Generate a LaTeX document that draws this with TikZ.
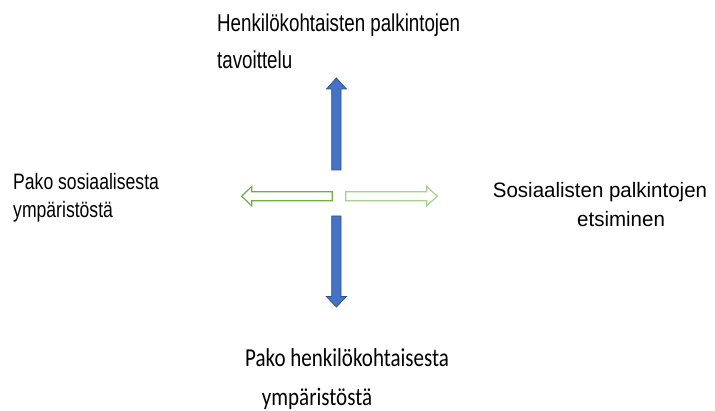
\documentclass[tikz,border=0pt]{standalone}
\usepackage{fontspec}
\usepackage{graphicx}
\setmainfont{Liberation Sans}
\newfontfamily\carl{Carlito}
\definecolor{blueF}{HTML}{4472C4}
\definecolor{blueD}{HTML}{2F528F}
\definecolor{greenD}{HTML}{70AD47}
\definecolor{greenL}{HTML}{A9D18E}
\newcommand{\stxt}[3]{\scalebox{1}[#2]{\fontsize{#1}{#1}\selectfont #3}}
\begin{document}
\begin{tikzpicture}[x=1pt,y=-1pt,
  lbl/.style={inner sep=0pt,anchor=base west},
  bluearrow/.style={fill=blueF,draw=blueD,line width=0.8pt,line join=miter},
  greenarrow/.style={fill=white,line width=1.2pt,line join=miter}]
\useasboundingbox (0,0) rectangle (715,411);
% texts
\node[lbl] (t1) at (217,31.7) {\stxt{18.75}{1.3}{Henkilökohtaisten palkintojen}};
\node[lbl] (t2) at (217,69) {\stxt{18.75}{1.3}{tavoittelu}};
\node[lbl] (l1) at (13,190) {\stxt{17.6}{1.27}{Pako sosiaalisesta}};
\node[lbl] (l2) at (13,217.3) {\stxt{17.6}{1.27}{ympäristöstä}};
\node[lbl] (r1) at (492.7,198) {\stxt{20.5}{1.02}{Sosiaalisten palkintojen}};
\node[lbl] (r2) at (577,227) {\stxt{20.5}{1.02}{etsiminen}};
\node[lbl] (b1) at (245,366.7) {\stxt{21}{1.23}{\carl Pako henkilökohtaisesta}};
\node[lbl] (b2) at (261.7,405.5) {\stxt{21}{1.2}{\carl ympäristöstä}};
% up arrow
\draw[bluearrow] (331.7,170) -- (331.7,89) -- (326.5,89) -- (336.3,78) -- (346.5,89) -- (341,89) -- (341,170) -- cycle;
% down arrow
\draw[bluearrow] (331.7,216) -- (331.7,296.5) -- (326.5,296.5) -- (336.3,307) -- (346.5,296.5) -- (341,296.5) -- (341,216) -- cycle;
% left arrow
\draw[greenarrow,draw=greenD] (332.3,191.7) -- (251.7,191.7) -- (251.7,186.5) -- (241.7,196.2) -- (251.7,205.8) -- (251.7,200.7) -- (332.3,200.7) -- cycle;
% right arrow
\draw[greenarrow,draw=greenL] (345.7,191.7) -- (426.7,191.7) -- (426.7,186.5) -- (437.3,196.2) -- (426.7,205.8) -- (426.7,200.7) -- (345.7,200.7) -- cycle;
\end{tikzpicture}
\end{document}
